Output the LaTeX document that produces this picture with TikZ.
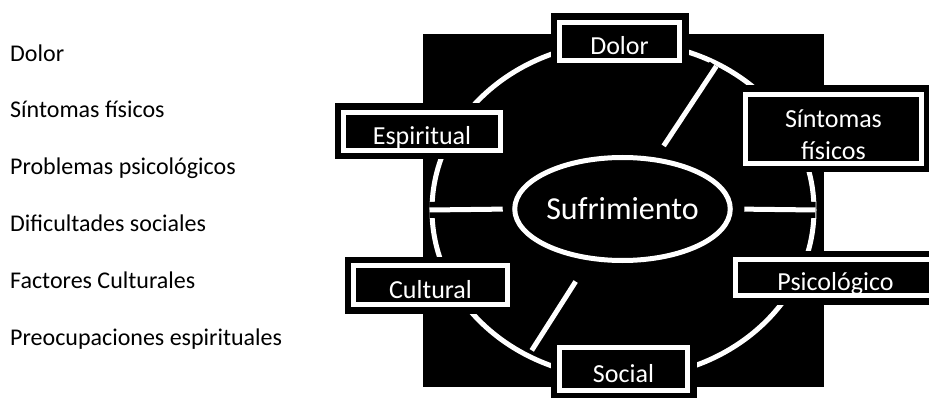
\documentclass[tikz,border=0pt]{standalone}
\usepackage{fontspec}
\setmainfont{Carlito}
\usetikzlibrary{shapes.geometric}

\begin{document}
\begin{tikzpicture}[x=1pt, y=-1pt,
  cause/.style={anchor=base west, inner sep=0pt, font=\fontsize{24}{29}\selectfont},
  part/.style={rectangle, draw=white, line width=5pt, fill=black, text=white, inner sep=0pt, font=\fontsize{26}{32}\selectfont, text height=26pt, text depth=0pt, preaction={draw=black, line width=18pt}},
  hub/.style={ellipse, draw=white, line width=5pt, fill=black, text=white, inner sep=0pt, font=\fontsize{32}{38}\selectfont},
  ring/.style={ellipse, draw=white, line width=5pt, inner sep=0pt},
  spoke/.style={draw=white, line width=5pt, preaction={draw=black, line width=16pt}}]
\useasboundingbox (0,0) rectangle (929,398);
% list on the left
\node[cause] (pain) at (10,62) {Dolor};
\node[cause] (symptoms) at (10,118) {Síntomas físicos};
\node[cause] (problems) at (10,175) {Problemas psicológicos};
\node[cause] (difficulties) at (10,232) {Dificultades sociales};
\node[cause] (factors) at (10,288) {Factores Culturales};
\node[cause] (concerns) at (10,345) {Preocupaciones espirituales};
% wheel
\fill[black] (423,34) rectangle (824,387);
\node[ring, minimum width=382pt, minimum height=336pt] (ring) at (623,210) {};
\node[hub, minimum width=206pt, minimum height=103pt] (hub) at (622.5,209) {Sufrimiento};
\path[spoke, shorten <=5pt, shorten >=14pt] (ring.57) -- (hub.57);
\path[spoke, shorten >=9.5pt] (ring.180) -- (hub.180);
\path[spoke, shorten <=1pt, shorten >=11.5pt] (ring.0) -- (hub.0);
\path[spoke, shorten <=9pt, shorten >=25pt] (ring.237) -- (hub.237);
\node[part, minimum width=120pt, minimum height=38pt] (dolor) at (619.5,41.5) {Dolor};
\node[part, minimum width=176pt, minimum height=69pt, align=center, text height=62pt] (fisicos) at (833.5,129) {Síntomas\\físicos};
\node[part, minimum width=200pt, minimum height=36pt] (psico) at (835.5,277.5) {Psicológico};
\node[part, minimum width=128pt, minimum height=43pt] (social) at (623.5,369) {Social};
\node[part, minimum width=154pt, minimum height=39pt] (cultural) at (430.5,285) {Cultural};
\node[part, minimum width=157pt, minimum height=38pt] (espiritual) at (422,131.5) {Espiritual};
\end{tikzpicture}
\end{document}
